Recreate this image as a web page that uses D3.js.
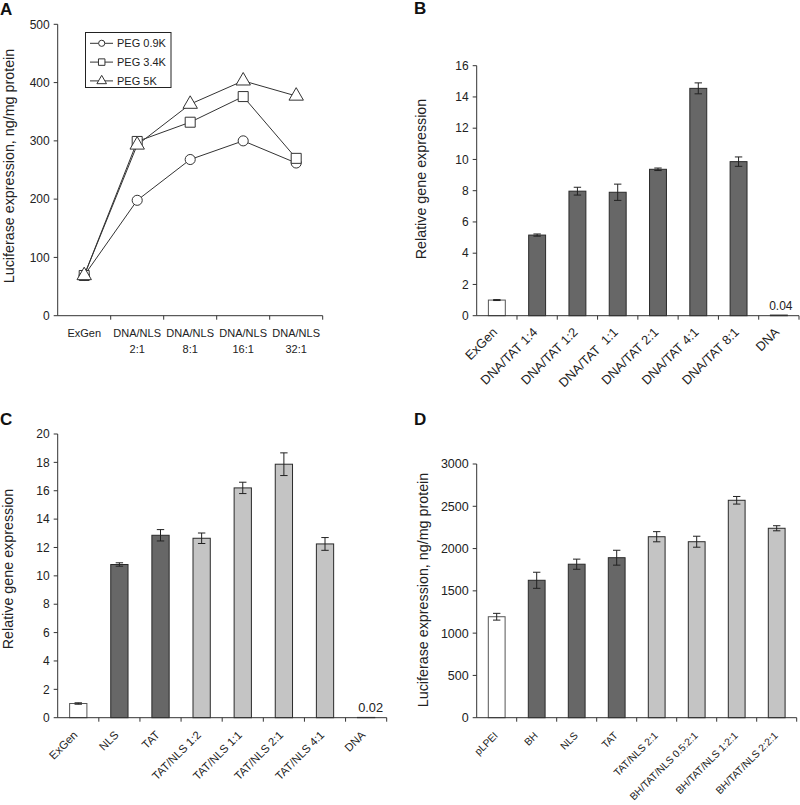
<!DOCTYPE html>
<html><head><meta charset="utf-8">
<script src="https://cdn.jsdelivr.net/npm/d3@7"></script>
<style>body{margin:0;background:#fff}svg{font-family:"Liberation Sans",Arial,sans-serif}</style>
</head><body>
<svg id="c" width="800" height="805"></svg>
<script>
// Panel A data
const catsA = [["ExGen"],["DNA/NLS","2:1"],["DNA/NLS","8:1"],["DNA/NLS","16:1"],["DNA/NLS","32:1"]];
const seriesNamesA = ["PEG 0.9K","PEG 3.4K","PEG 5K"];
const peg09 = [69, 198, 268, 300, 262];
const peg34 = [69, 299, 332, 376, 270];
const peg5  = [69, 293, 363, 403, 377];
const ticksA = [0,100,200,300,400,500];

// Panel B data
const catsB = ["ExGen","DNA/TAT 1:4","DNA/TAT 1:2","DNA/TAT  1:1","DNA/TAT 2:1","DNA/TAT 4:1","DNA/TAT 8:1","DNA"];
const valsB = [1.0, 5.16, 7.97, 7.9, 9.37, 14.55, 9.86, 0.04];
const errB  = [0.03, 0.07, 0.25, 0.52, 0.08, 0.35, 0.3, 0];
const typeB = ["w","d","d","d","d","d","d","d"];
const ticksB = [0,2,4,6,8,10,12,14,16];

// Panel C data
const catsC = ["ExGen","NLS","TAT","TAT/NLS 1:2","TAT/NLS 1:1","TAT/NLS 2:1","TAT/NLS 4:1","DNA"];
const valsC = [1.0, 10.8, 12.86, 12.65, 16.2, 17.87, 12.25, 0.02];
const errC  = [0.05, 0.12, 0.4, 0.37, 0.4, 0.8, 0.45, 0];
const typeC = ["w","d","d","l","l","l","l","l"];
const ticksC = [0,2,4,6,8,10,12,14,16,18,20];

// Panel D data
const catsD = ["pLPEI","BH","NLS","TAT","TAT/NLS 2:1","BH/TAT/NLS 0.5:2:1","BH/TAT/NLS 1:2:1","BH/TAT/NLS 2:2:1"];
const valsD = [1194, 1625, 1815, 1892, 2140, 2081, 2571, 2240];
const errD  = [40, 95, 60, 88, 60, 65, 45, 30];
const typeD = ["w","d","d","d","l","l","l","l"];
const ticksD = [0,500,1000,1500,2000,2500,3000];

const fill = {w:"#ffffff", d:"#676767", l:"#c4c4c4"};
const axisCol = "#333";
const svg = d3.select("#c");

function yAxis(g, y, ticks, x0, fs) {
  g.append("line").attr("x1",x0).attr("x2",x0).attr("y1",y.range()[0]).attr("y2",y.range()[1]).attr("stroke",axisCol);
  ticks.forEach(t=>{
    g.append("line").attr("x1",x0-4).attr("x2",x0).attr("y1",y(t)).attr("y2",y(t)).attr("stroke",axisCol);
    g.append("text").attr("x",x0-8).attr("y",y(t)).attr("dy","0.35em").attr("text-anchor","end").attr("font-size",fs).attr("fill","#222").text(t);
  });
}
function xAxis(g, x, y0, cats) {
  const r = x.range();
  g.append("line").attr("x1",r[0]).attr("x2",r[1]).attr("y1",y0).attr("y2",y0).attr("stroke",axisCol);
  const edges = cats.map(c=>x(c)).concat([r[1]]);
  edges.slice(1).forEach(e=>{
    g.append("line").attr("x1",e).attr("x2",e).attr("y1",y0).attr("y2",y0+4).attr("stroke",axisCol);
  });
}
function panelLabel(t,x,y){
  svg.append("text").attr("x",x).attr("y",y).attr("font-size",17).attr("font-weight","bold").attr("fill","#111").text(t);
}
function yLabel(t,cx,cy,fs){
  svg.append("text").attr("transform",`translate(${cx},${cy}) rotate(-90)`).attr("text-anchor","middle").attr("dy","0.35em").attr("font-size",fs).attr("fill","#222").text(t);
}

// ---- Panel A ----
(function(){
  const g = svg.append("g");
  const labels = catsA.map(c=>c.join(" "));
  const x = d3.scaleBand().domain(labels).range([57.7,322.7]);
  const y = d3.scaleLinear().domain([0,500]).range([315.7,24.3]);
  yAxis(g,y,ticksA,57.7,12);
  xAxis(g,x,315.7,labels);
  catsA.forEach((c,i)=>{
    const cx = x(labels[i])+x.bandwidth()/2;
    const t = g.append("text").attr("text-anchor","middle").attr("font-size",11).attr("fill","#222");
    c.forEach((line,j)=>{
      t.append("tspan").attr("x",cx).attr("y", 337+j*16).text(line);
    });
  });
  const series = [peg09, peg34, peg5];
  const shapes = [d3.symbolCircle, d3.symbolSquare, d3.symbolTriangle];
  const sizes = [80, 100, 90];
  const line = d3.line().x((d,i)=>x(labels[i])+x.bandwidth()/2).y(d=>y(d));
  series.forEach((s,k)=>{
    g.append("path").attr("d",line(s)).attr("fill","none").attr("stroke","#333").attr("stroke-width",1);
  });
  series.forEach((s,k)=>{
    s.forEach((v,i)=>{
      g.append("path").attr("d",d3.symbol().type(shapes[k]).size(sizes[k])())
        .attr("transform",`translate(${x(labels[i])+x.bandwidth()/2},${y(v)})`)
        .attr("fill","#fff").attr("stroke","#333").attr("stroke-width",1);
    });
  });
  // legend
  const lg = g.append("g");
  lg.append("rect").attr("x",85.5).attr("y",32.5).attr("width",85.5).attr("height",55).attr("fill","#fff").attr("stroke","#222");
  const lsizes = [30, 42, 40];
  seriesNamesA.forEach((n,k)=>{
    const ly = 43.3 + k*18.8;
    lg.append("line").attr("x1",90).attr("x2",113).attr("y1",ly).attr("y2",ly).attr("stroke","#333");
    lg.append("path").attr("d",d3.symbol().type(shapes[k]).size(lsizes[k])()).attr("transform",`translate(101.7,${ly})`).attr("fill","#fff").attr("stroke","#333");
    lg.append("text").attr("x",117).attr("y",ly).attr("dy","0.36em").attr("font-size",11).attr("fill","#222").text(n);
  });
  panelLabel("A",0,15);
  yLabel("Luciferase expression, ng/mg protein",8.5,166,14.3);
})();

function barPanel(cats, vals, errs, types, ticks, box, opt){
  const g = svg.append("g");
  const x = d3.scaleBand().domain(cats).range([box.l, box.r]);
  const y = d3.scaleLinear().domain([0, ticks[ticks.length-1]]).range([box.b, box.t]);
  yAxis(g,y,ticks,box.l,opt.tickFs);
  const bw = x.bandwidth()*0.42;
  cats.forEach((c,i)=>{
    const cx = x(c)+x.bandwidth()/2;
    g.append("rect").attr("x",cx-bw/2).attr("y",y(vals[i])).attr("width",bw).attr("height",y(0)-y(vals[i]))
      .attr("fill",fill[types[i]]).attr("stroke", types[i]==="w" ? "#555" : "#2a2a2a").attr("stroke-width",1);
    if (errs[i]>0){
      const e = g.append("g").attr("stroke","#222").attr("stroke-width",1);
      e.append("line").attr("x1",cx).attr("x2",cx).attr("y1",y(vals[i]+errs[i])).attr("y2",y(vals[i]-errs[i]));
      e.append("line").attr("x1",cx-3.7).attr("x2",cx+3.7).attr("y1",y(vals[i]+errs[i])).attr("y2",y(vals[i]+errs[i]));
      e.append("line").attr("x1",cx-3.7).attr("x2",cx+3.7).attr("y1",y(vals[i]-errs[i])).attr("y2",y(vals[i]-errs[i]));
    }
    g.append("text").attr("transform",`translate(${cx+opt.dx},${box.b+opt.dy}) rotate(-45)`).attr("text-anchor","end")
      .attr("font-size",opt.labFs).attr("fill","#222").text(c.replace(/ /g,"\u00a0"));
  });
  xAxis(g,x,box.b,cats);
  if (opt.valIdx!=null){
    const c = cats[opt.valIdx];
    g.append("text").attr("x",x(c)+x.bandwidth()/2+opt.valDx).attr("y",y(vals[opt.valIdx])-opt.valDy).attr("text-anchor","middle")
      .attr("font-size",opt.valFs).attr("fill","#222").text(opt.valText);
  }
}

barPanel(catsB, valsB, errB, typeB, ticksB, {l:476.7,r:799,t:65.7,b:315.7},
  {tickFs:12, labFs:12.8, dx:1.2, dy:17.3, valIdx:7, valText:"0.04", valFs:12, valDx:2, valDy:5.5});
panelLabel("B",414,14);
yLabel("Relative gene expression",421,179,14.3);

barPanel(catsC, valsC, errC, typeC, ticksC, {l:57.7,r:386.7,t:434,b:717.7},
  {tickFs:12, labFs:11.3, dx:0, dy:18, valIdx:7, valText:"0.02", valFs:12.8, valDx:4.5, valDy:5.5});
panelLabel("C",0,425);
yLabel("Relative gene expression",7.5,569,14.3);

barPanel(catsD, valsD, errD, typeD, ticksD, {l:476.7,r:796.7,t:464,b:717.7},
  {tickFs:12.5, labFs:10.2, dx:1.8, dy:18.5, valIdx:null});
panelLabel("D",414,425);
yLabel("Luciferase expression, ng/mg protein",422.5,590,14.3);
</script>
</body></html>
